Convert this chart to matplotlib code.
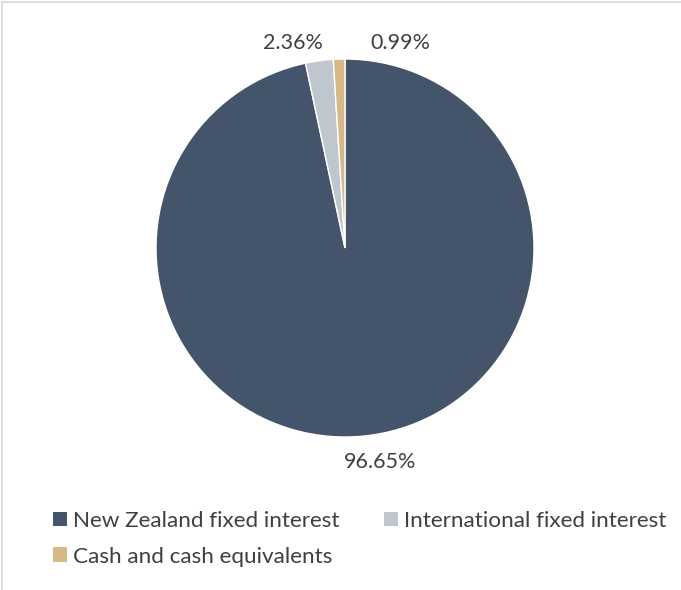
import matplotlib
matplotlib.use("Agg")
import matplotlib.pyplot as plt
import numpy as np
from matplotlib.lines import Line2D

categories = ["New Zealand fixed interest", "International fixed interest", "Cash and cash equivalents"]
values = [96.65, 2.36, 0.99]
labels = ["96.65%", "2.36%", "0.99%"]
colors = ["#44546A", "#BEC7CE", "#D7B987"]

plt.rcParams['font.family'] = ['Lato', 'DejaVu Sans']

W, H = 681, 590
fig = plt.figure(figsize=(W/100, H/100), dpi=100)
# light border (top and left visible)
fig.add_artist(Line2D([2/W, 2/W], [0, 1 - 2/H], color="#D9D9D9", lw=1.2))
fig.add_artist(Line2D([2/W, 1], [1 - 2/H, 1 - 2/H], color="#D9D9D9", lw=1.2))

cx, cy, r = 345, 248, 189
ax = fig.add_axes([(cx - r)/W, (H - cy - r)/H, 2*r/W, 2*r/H])
wedges, _ = ax.pie(values, colors=colors, startangle=90, counterclock=False,
                   radius=1, wedgeprops=dict(linewidth=1, edgecolor="white"))
ax.set_xlim(-1, 1)
ax.set_ylim(-1, 1)
ax.set_aspect('equal')
ax.axis('off')

# label positions from wedge angles, radially outside, with nudges for small slices
radii = [1.14, 1.097, 1.0875]
nudges = [(0.065, 0.0), (-0.126, 0.0), (0.325, 0.0)]
for w, lab, rr, (dx, dy) in zip(wedges, labels, radii, nudges):
    ang = np.deg2rad((w.theta1 + w.theta2) / 2)
    x = rr * np.cos(ang) + dx
    y = rr * np.sin(ang) + dy
    ax.text(x, y, lab, ha='center', va='center', fontsize=15.5, color="#404040", clip_on=False)

order = [0, 2, 1]
leg = fig.legend([wedges[i] for i in order], [categories[i] for i in order],
                 ncol=2, loc='upper left', bbox_to_anchor=(53/W, 1 - 511/H),
                 frameon=False, fontsize=16.2, labelcolor="#404040",
                 handlelength=0.62, handleheight=0.62, handletextpad=0.27,
                 labelspacing=0.69, columnspacing=1.96, borderpad=0, borderaxespad=0)
for h in leg.legend_handles:
    h.set_edgecolor('none')

fig.savefig("out.png", dpi=100)
